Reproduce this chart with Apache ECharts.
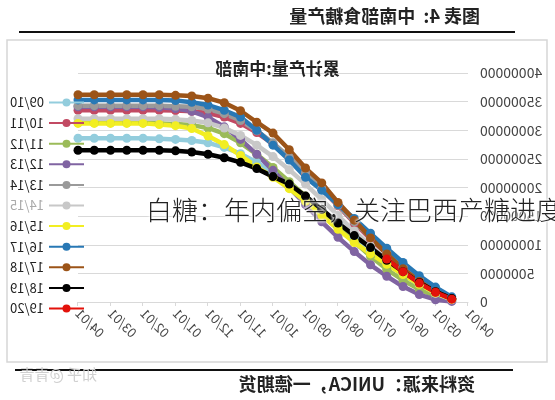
<!DOCTYPE html>
<html>
<head>
<meta charset="utf-8">
<script src="https://cdn.jsdelivr.net/npm/echarts@6/dist/echarts.min.js"></script>
<style>
html,body{margin:0;padding:0;background:#fff;overflow:hidden;}
#wrap{position:relative;width:555px;height:400px;}
#chart{position:absolute;left:0;top:0;width:555px;height:400px;transform:scaleX(-1);}
#cap{position:absolute;left:146px;top:194px;font-family:"Noto Sans CJK SC",sans-serif;font-weight:300;font-size:26px;color:#222;white-space:nowrap;line-height:30px;text-shadow:0 0 3px #fff,0 0 3px #fff,0 0 2px #fff;}
</style>
</head>
<body>
<div id="wrap">
  <div id="chart"></div>
  <div id="cap">白糖：年内偏空，关注巴西产糖进度</div>
</div>
<script>
// categories: semi-monthly from 04/01 to next 04/01
const categories = ["04/01","04/16","05/01","05/16","06/01","06/16","07/01","07/16","08/01","08/16","09/01","09/16","10/01","10/16","11/01","11/16","12/01","12/16","01/01","01/16","02/01","02/16","03/01","03/16","04/01"];
const seasons = ["09/10","10/11","11/12","12/13","13/14","14/15","15/16","16/17","17/18","18/19","19/20"];
// cumulative sugar output, million tonnes (first category has no data)
const s0910 = [null,0.5,1.6,3.0,4.8,6.8,9.0,11.3,13.7,16.1,18.4,20.5,22.6,24.4,25.9,27.0,27.8,28.2,28.4,28.5,28.6,28.6,28.6,28.6,28.6];
const s1011 = [null,0.5,1.9,3.8,6.0,8.4,11.0,13.8,16.8,19.7,22.5,25.2,27.6,29.6,31.2,32.3,33.0,33.3,33.45,33.5,33.5,33.5,33.5,33.5,33.5];
const s1112 = [null,0.3,1.0,2.2,3.8,5.7,8.0,10.5,13.1,15.8,18.5,21.0,23.5,25.8,27.8,29.4,30.4,30.9,31.1,31.2,31.3,31.3,31.3,31.3,31.3];
const s1213 = [null,0.1,0.4,1.3,2.7,4.5,6.5,8.8,11.3,14.0,17.0,20.0,23.0,25.8,28.4,30.6,32.3,33.3,33.8,34.0,34.1,34.1,34.1,34.1,34.1];
const s1314 = [null,0.6,2.0,3.9,6.1,8.6,11.2,14.0,16.9,19.8,22.6,25.3,27.8,29.9,31.7,32.9,33.7,34.1,34.2,34.3,34.3,34.3,34.3,34.3,34.3];
const s1415 = [null,0.4,1.5,3.2,5.2,7.4,9.8,12.4,15.1,17.9,20.6,23.1,25.4,27.4,29.1,30.4,31.3,31.7,31.9,32.0,32.0,32.0,32.0,32.0,32.0];
const s1516 = [null,0.5,1.6,3.1,4.8,6.6,8.4,10.4,12.7,15.1,17.6,19.8,21.8,23.6,25.6,27.5,29.0,30.3,30.8,31.0,31.2,31.2,31.2,31.2,31.2];
const s1617 = [null,0.9,2.6,4.6,6.9,9.4,12.0,14.6,17.0,19.5,21.8,24.8,27.4,30.0,32.3,33.5,34.4,34.9,35.2,35.3,35.3,35.3,35.3,35.3,35.3];
const s1718 = [null,0.6,1.8,3.6,5.8,8.4,11.2,14.3,17.4,20.8,23.4,26.6,29.5,31.4,33.4,34.8,35.6,36.0,36.1,36.2,36.2,36.2,36.2,36.2,36.2];
const s1819 = [null,0.6,1.8,3.4,5.3,7.3,9.5,11.6,13.8,16.2,18.5,20.6,21.9,23.3,24.4,25.2,25.8,26.2,26.4,26.5,26.5,26.5,26.5,26.5,26.5];
const s1920 = [null,0.5,1.7,3.3,5.3,7.5];
const seriesValues = [s0910,s1011,s1112,s1213,s1314,s1415,s1516,s1617,s1718,s1819,s1920];
const colors = ["#93CDDD","#C24A63","#9BBB59","#8064A2","#9A9A9A","#C8C8C8","#F2EE22","#2878B5","#9C5418","#000000","#E3120B"];
const yTicks = {min:0, max:40000000, interval:5000000};

const chart = echarts.init(document.getElementById('chart'), null, {renderer:'canvas'});
const FONT = '"Noto Sans CJK SC","Noto Sans",sans-serif';

const series = seasons.map((name,i)=>({
  name: name,
  type: 'line',
  data: seriesValues[i].map(v => v==null ? null : v*1e6),
  symbol: 'circle',
  symbolSize: 9,
  showSymbol: true,
  lineStyle: {width: 4.5, color: colors[i]},
  itemStyle: {color: colors[i]},
  emphasis: {disabled: true},
  animation: false
}));

chart.setOption({
  animation: false,
  textStyle: {fontFamily: FONT},
  title: {
    text: '累计产量:中南部',
    left: 'center', top: 55,
    textStyle: {fontSize: 17, fontWeight: 'bold', color: '#222', fontFamily: FONT}
  },
  legend: {
    orient: 'vertical',
    left: 465, top: 90,
    itemWidth: 35, itemHeight: 10, itemGap: 5.6,
    textStyle: {fontSize: 13, color: '#222', lineHeight: 15, fontFamily: FONT},
    data: seasons.map(s => s === '14/15' ? {name: s, textStyle: {color: '#aaa'}} : {name: s})
  },
  grid: {left: 87, right: 78, top: 73, bottom: 98},
  xAxis: {
    type: 'category',
    data: categories,
    boundaryGap: false,
    axisLine: {lineStyle: {color: '#d9d9d9'}},
    axisTick: {show: true, interval: 1, length: 4, lineStyle: {color: '#d9d9d9'}},
    axisLabel: {interval: 1, rotate: 45, fontSize: 13, color: '#444', margin: 9}
  },
  yAxis: {
    type: 'value',
    min: yTicks.min, max: yTicks.max, interval: yTicks.interval,
    axisLine: {show: false},
    axisTick: {show: false},
    axisLabel: {fontSize: 14, color: '#444', margin: 12, formatter: v => String(v)},
    splitLine: {lineStyle: {color: '#d9d9d9'}}
  },
  graphic: [
    {type: 'rect', shape: {x: 8, y: 40, width: 540, height: 322}, style: {fill: 'none', stroke: '#d6d6d6', lineWidth: 1.5}, z: -1},
    {type: 'text', x: 75, y: 7, style: {text: '图表 4:  中南部食糖产量', font: 'bold 18px ' + FONT, fill: '#222'}},
    {type: 'line', shape: {x1: 40, y1: 32, x2: 536, y2: 32}, style: {stroke: '#111', lineWidth: 2}},
    {type: 'line', shape: {x1: 42, y1: 370, x2: 540, y2: 370}, style: {stroke: '#111', lineWidth: 2}},
    {type: 'text', x: 80, y: 375, style: {text: '资料来源：UNICA，一德期货', font: 'bold 18px ' + FONT, fill: '#222'}},
    {type: 'text', x: 458, y: 367, style: {text: '知乎 @青青', font: '15px ' + FONT, fill: '#cfcfcf'}}
  ],
  series: series
});
</script>
</body>
</html>
